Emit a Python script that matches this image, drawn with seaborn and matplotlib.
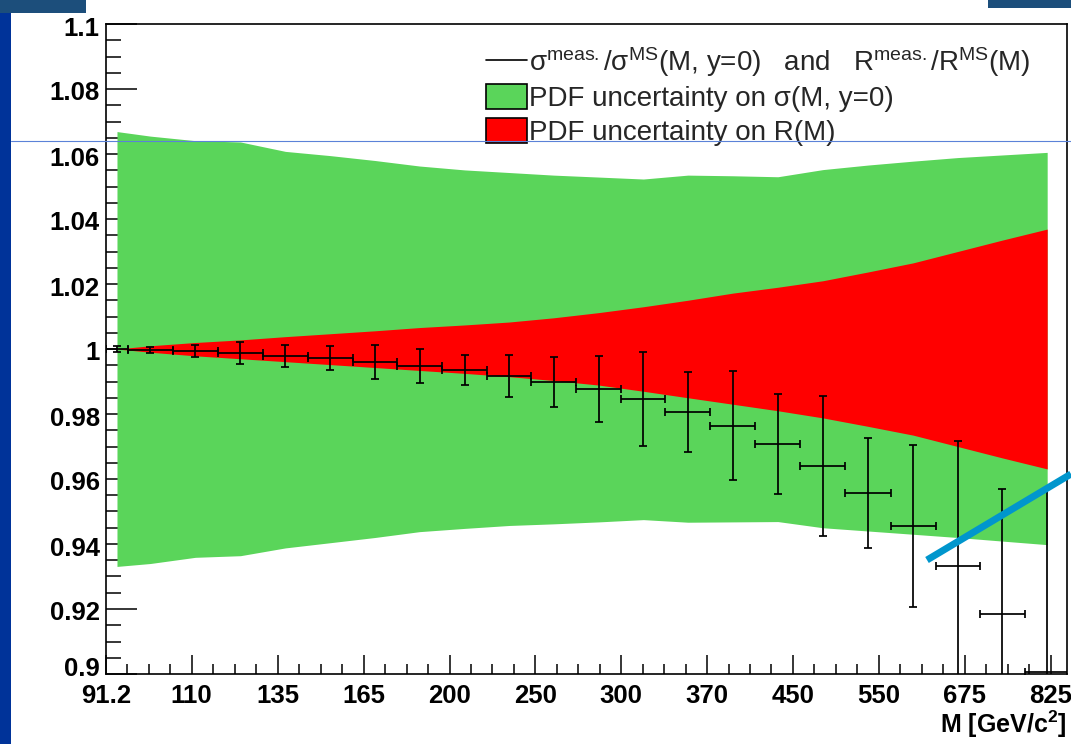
import numpy as np
import matplotlib
matplotlib.use("Agg")
import matplotlib.pyplot as plt
import seaborn as sns
from matplotlib.lines import Line2D
from matplotlib.patches import Patch, Rectangle
from matplotlib.transforms import ScaledTranslation
from matplotlib.ticker import FixedLocator, FixedFormatter, MultipleLocator, NullFormatter

# === Data ===
# mass bin edges [GeV/c^2] (log-spaced axis)
bin_edges = [91.2, 96.0, 106.6, 118.4, 131.6, 146.1, 162.3, 179.9, 199.9, 222.1, 246.1,
             273.4, 303.8, 336.7, 374.0, 415.5, 461.4, 512.7, 569.6, 632.8, 701.4, 779.1, 865.4]

# measured / MS ratio with errors
ratio = [1.0000, 0.9997, 0.9993, 0.9987, 0.9979, 0.9972, 0.9960, 0.9947, 0.9935, 0.9917, 0.9899,
         0.9877, 0.9846, 0.9807, 0.9764, 0.9709, 0.9639, 0.9556, 0.9455, 0.9333, 0.9185, 0.9005]
ratio_err = [0.0010, 0.0010, 0.0018, 0.0034, 0.0034, 0.0037, 0.0053, 0.0052, 0.0047, 0.0065, 0.0077,
             0.0102, 0.0145, 0.0123, 0.0167, 0.0154, 0.0215, 0.0169, 0.0249, 0.0385, 0.0383, 0.0565]

# PDF uncertainty on sigma(M, y=0)  (green band)
green_hi = [1.0669, 1.0655, 1.0641, 1.0637, 1.0608, 1.0595, 1.0580, 1.0563, 1.0551, 1.0543, 1.0535,
            1.0529, 1.0523, 1.0535, 1.0533, 1.0530, 1.0552, 1.0566, 1.0578, 1.0589, 1.0597, 1.0605]
green_lo = [0.9331, 0.9340, 0.9359, 0.9364, 0.9388, 0.9404, 0.9420, 0.9438, 0.9448, 0.9457, 0.9462,
            0.9468, 0.9475, 0.9467, 0.9468, 0.9469, 0.9450, 0.9440, 0.9430, 0.9420, 0.9409, 0.9398]

# PDF uncertainty on R(M)  (red band)
red_hi = [1.0000, 1.0010, 1.0020, 1.0028, 1.0038, 1.0047, 1.0056, 1.0066, 1.0074, 1.0083, 1.0096,
          1.0112, 1.0130, 1.0150, 1.0172, 1.0190, 1.0210, 1.0237, 1.0265, 1.0300, 1.0335, 1.0369]
red_lo = [1.0000, 0.9990, 0.9979, 0.9970, 0.9961, 0.9952, 0.9943, 0.9934, 0.9925, 0.9915, 0.9903,
          0.9889, 0.9870, 0.9850, 0.9830, 0.9810, 0.9788, 0.9762, 0.9735, 0.9700, 0.9665, 0.9631]

# axis ticks
x_ticks = [91.2, 111.4, 136.2, 166.4, 203.4, 248.5, 303.7, 371.1, 453.5, 554.2, 677.2, 827.6]
x_labels = ["91.2", "110", "135", "165", "200", "250", "300", "370", "450", "550", "675", "825"]
y_ticks = [0.9, 0.92, 0.94, 0.96, 0.98, 1.0, 1.02, 1.04, 1.06, 1.08, 1.1]
y_labels = ["0.9", "0.92", "0.94", "0.96", "0.98", "1", "1.02", "1.04", "1.06", "1.08", "1.1"]

# === Style ===
sns.set_theme(style="white")
plt.rcParams['font.family'] = ['Liberation Sans', 'DejaVu Sans']
plt.rcParams['mathtext.fontset'] = 'custom'
plt.rcParams['mathtext.rm'] = 'Liberation Sans'
plt.rcParams['mathtext.bf'] = 'Liberation Sans:bold'
plt.rcParams['mathtext.it'] = 'Liberation Sans:italic'

GREEN = "#5ad55a"
RED = "#ff0000"

W, H = 1071, 744
fig = plt.figure(figsize=(W / 100, H / 100), dpi=100)
fig.patch.set_facecolor("white")
ax = fig.add_axes([106 / W, 1 - 674 / H, 961 / W, 650 / H])
ax.set_facecolor("white")

edges = np.array(bin_edges)
centers = np.sqrt(edges[:-1] * edges[1:])
xerr = [centers - edges[:-1], edges[1:] - centers]

# === Bands ===
ax.fill_between(centers, green_lo, green_hi, color=GREEN, lw=0, zorder=1)
ax.fill_between(centers, red_lo, red_hi, color=RED, lw=0, zorder=2)

# === Points ===
ax.errorbar(centers, ratio, yerr=ratio_err, xerr=xerr, fmt="none", ecolor="black",
            elinewidth=1.25, capsize=3, capthick=1.25, zorder=3)

# === Axes ===
ax.set_xscale("log")
ax.set_xlim(91.2, 860)
ax.set_ylim(0.9, 1.1)

minor_x = []
for a, b in zip(x_ticks[:-1], x_ticks[1:]):
    for j in (1, 2, 3):
        minor_x.append(a * (b / a) ** (j / 4))
ax.xaxis.set_major_locator(FixedLocator(x_ticks))
ax.xaxis.set_major_formatter(FixedFormatter(x_labels))
ax.xaxis.set_minor_locator(FixedLocator(minor_x))
ax.xaxis.set_minor_formatter(NullFormatter())
ax.yaxis.set_major_locator(FixedLocator(y_ticks))
ax.yaxis.set_major_formatter(FixedFormatter(y_labels))
ax.yaxis.set_minor_locator(MultipleLocator(0.005))

for s in ax.spines.values():
    s.set_color("black")
    s.set_linewidth(1.2)
    s.set_zorder(5)

ax.tick_params(axis="both", which="both", direction="in", color="black", width=1.1,
               bottom=True, left=True, top=False, right=False)
ax.tick_params(axis="y", which="major", length=22, pad=4.5)
ax.tick_params(axis="y", which="minor", length=11)
ax.tick_params(axis="x", which="major", length=14, pad=7.5)
ax.tick_params(axis="x", which="minor", length=7.5)
for lab in ax.get_xticklabels() + ax.get_yticklabels():
    lab.set_fontweight("bold")
    lab.set_fontsize(18.5)
    lab.set_color("black")

# ROOT nudges the bottom y label up so it clears the x labels
ylabs = ax.get_yticklabels()
ylabs[0].set_transform(ylabs[0].get_transform() + ScaledTranslation(0, 0.07, fig.dpi_scale_trans))
for lab in ylabs[1:]:
    lab.set_transform(lab.get_transform() + ScaledTranslation(0, -0.02, fig.dpi_scale_trans))

ax.set_xlabel(r"M [GeV/c$^{\mathbf{2}}$]", loc="right", fontsize=18, fontweight="bold",
              color="black", labelpad=0)

# === Legend ===
handles = [
    Line2D([0], [0], color="black", lw=1.2),
    Patch(facecolor=GREEN, edgecolor="black", lw=1.2),
    Patch(facecolor=RED, edgecolor="black", lw=1.2),
]
labels = [
    r"σ$^{\rm meas.}$/σ$^{\rm MS}$(M, y=0)   and   R$^{\rm meas.}$/R$^{\rm MS}$(M)",
    "PDF uncertainty on σ(M, y=0)",
    "PDF uncertainty on R(M)",
]
leg = ax.legend(handles, labels, loc="upper left", bbox_to_anchor=(380 / 961, 1 - 21 / 650),
                frameon=False, fontsize=20, handlelength=1.48, handleheight=1.0,
                handletextpad=0.08, labelspacing=0.2, borderpad=0, borderaxespad=0)
leg.set_zorder(6)

# === Slide decorations ===
fig.add_artist(Rectangle((0, 0), 11 / W, 1 - 12.7 / H, transform=fig.transFigure,
                         facecolor="#003399", edgecolor="none"))
fig.add_artist(Rectangle((0, 1 - 12.7 / H), 86 / W, 12.7 / H, transform=fig.transFigure,
                         facecolor="#1c4e7b", edgecolor="none"))
fig.add_artist(Rectangle((988 / W, 1 - 8 / H), 83 / W, 8 / H, transform=fig.transFigure,
                         facecolor="#1c4e7b", edgecolor="none"))
fig.add_artist(Line2D([11 / W, 1], [1 - 141 / H, 1 - 141 / H], transform=fig.transFigure,
                      color="#5b82d8", lw=0.8, zorder=10))
fig.add_artist(Line2D([927 / W, 1], [1 - 560 / H, 1 - 474 / H], transform=fig.transFigure,
                      color="#0096cd", lw=5, solid_capstyle="butt", zorder=10))

fig.savefig("out.png", dpi=100)
